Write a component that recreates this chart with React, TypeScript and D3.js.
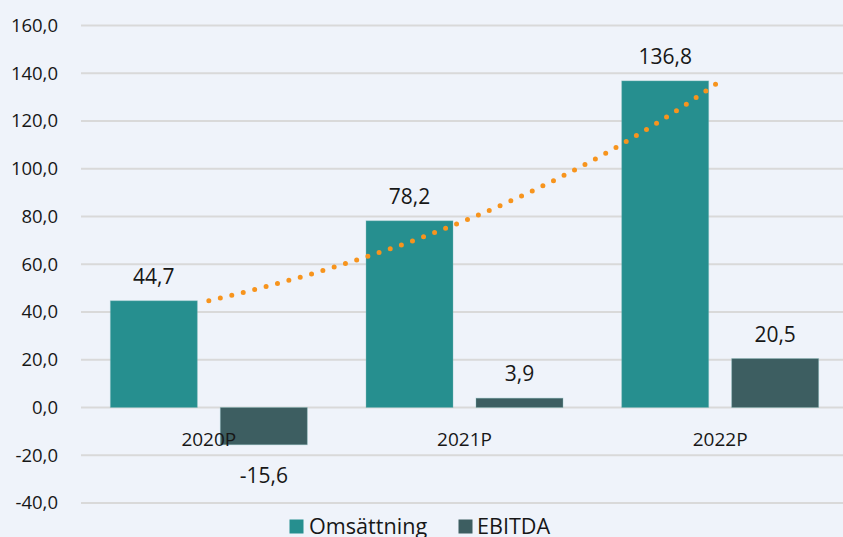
import React from "react";
import * as d3 from "d3";

const categories = ["2020P", "2021P", "2022P"];
const seriesNames = ["Omsättning", "EBITDA"];
const omsattning = [44.7, 78.2, 136.8];
const ebitda = [-15.6, 3.9, 20.5];
const yTicks = [-40, -20, 0, 20, 40, 60, 80, 100, 120, 140, 160];

const W = 843;
const H = 537;
const BG = "#EFF3FA";
const COLORS = ["#268F8F", "#3D5E61"];
const FONT = "'Open Sans', 'Noto Sans', sans-serif";
const TXT = "#171717";

const fmt = (v: number) => v.toFixed(1).replace(".", ",");

export default function App() {
  const x0 = d3.scaleBand<string>().domain(categories).range([81, 848]).padding(0);
  const x1 = d3
    .scaleBand<string>()
    .domain(seriesNames)
    .range([0, x0.bandwidth()])
    .paddingInner(0.209)
    .paddingOuter(0.267);
  const y = d3.scaleLinear().domain([-40, 160]).range([503, 25.5]);

  const seriesData = [omsattning, ebitda];

  // exponential trendline (least squares on ln values) like Excel
  const xs = omsattning.map((_, i) => i + 1);
  const lys = omsattning.map((v) => Math.log(v));
  const mx = d3.mean(xs)!;
  const my = d3.mean(lys)!;
  const b =
    d3.sum(xs.map((xv, i) => (xv - mx) * (lys[i] - my))) /
    d3.sum(xs.map((xv) => (xv - mx) * (xv - mx)));
  const a = Math.exp(my - b * mx);
  const tSamples = d3.range(1, 3.0001, 0.05);
  const center = (t: number) =>
    x0(categories[0])! + x0.bandwidth() / 2 + (t - 1) * x0.step();
  const trendPath = d3
    .line<number>()
    .x((t) => center(t))
    .y((t) => y(a * Math.exp(b * t)))
    .curve(d3.curveLinear)(tSamples)!;

  return (
    <svg
      width={W}
      height={H}
      style={{ position: "absolute", left: 0, top: 0, background: BG }}
      fontFamily={FONT}
    >
      <rect x={0} y={0} width={W} height={H} fill={BG} />
      {/* gridlines */}
      {yTicks.map((t) => (
        <line
          key={t}
          x1={81}
          x2={W}
          y1={y(t)}
          y2={y(t)}
          stroke="#D9D9D9"
          strokeWidth={1.8}
        />
      ))}
      {/* y tick labels */}
      {yTicks.map((t) => (
        <text
          key={"l" + t}
          x={58}
          y={y(t)}
          dy="0.35em"
          textAnchor="end"
          fontSize={18.5}
          fill={TXT}
        >
          {fmt(t)}
        </text>
      ))}
      {/* bars */}
      {seriesData.map((vals, si) =>
        vals.map((v, ci) => {
          const bx = x0(categories[ci])! + x1(seriesNames[si])!;
          const top = y(Math.max(0, v));
          const bot = y(Math.min(0, v));
          return (
            <rect
              key={si + "-" + ci}
              x={bx}
              y={top}
              width={x1.bandwidth()}
              height={bot - top}
              fill={COLORS[si]}
              stroke="#7FB6B6"
              strokeOpacity={0.35}
              strokeWidth={1}
            />
          );
        })
      )}
      {/* category labels */}
      {categories.map((c) => (
        <text
          key={c}
          x={x0(c)! + x0.bandwidth() / 2}
          y={446}
          textAnchor="middle"
          fontSize={19}
          fill={TXT}
        >
          {c}
        </text>
      ))}
      {/* trendline */}
      <path
        d={trendPath}
        fill="none"
        stroke="#F7941D"
        strokeWidth={5}
        strokeLinecap="round"
        strokeDasharray="0 11.8"
      />
      {/* data labels */}
      {seriesData.map((vals, si) =>
        vals.map((v, ci) => {
          const cx = x0(categories[ci])! + x1(seriesNames[si])! + x1.bandwidth() / 2;
          const ly = v >= 0 ? y(v) - 17 : y(v) + 38;
          return (
            <text
              key={"d" + si + "-" + ci}
              x={cx}
              y={ly}
              textAnchor="middle"
              fontSize={21}
              fill={TXT}
            >
              {fmt(v)}
            </text>
          );
        })
      )}
      {/* legend */}
      <rect x={289.5} y={519.5} width={14} height={14} fill={COLORS[0]} />
      <text x={309} y={534} fontSize={21.6} fill={TXT}>
        {seriesNames[0]}
      </text>
      <rect x={458.5} y={519.5} width={14} height={14} fill={COLORS[1]} />
      <text x={477} y={534} fontSize={21.6} fill={TXT}>
        {seriesNames[1]}
      </text>
    </svg>
  );
}
